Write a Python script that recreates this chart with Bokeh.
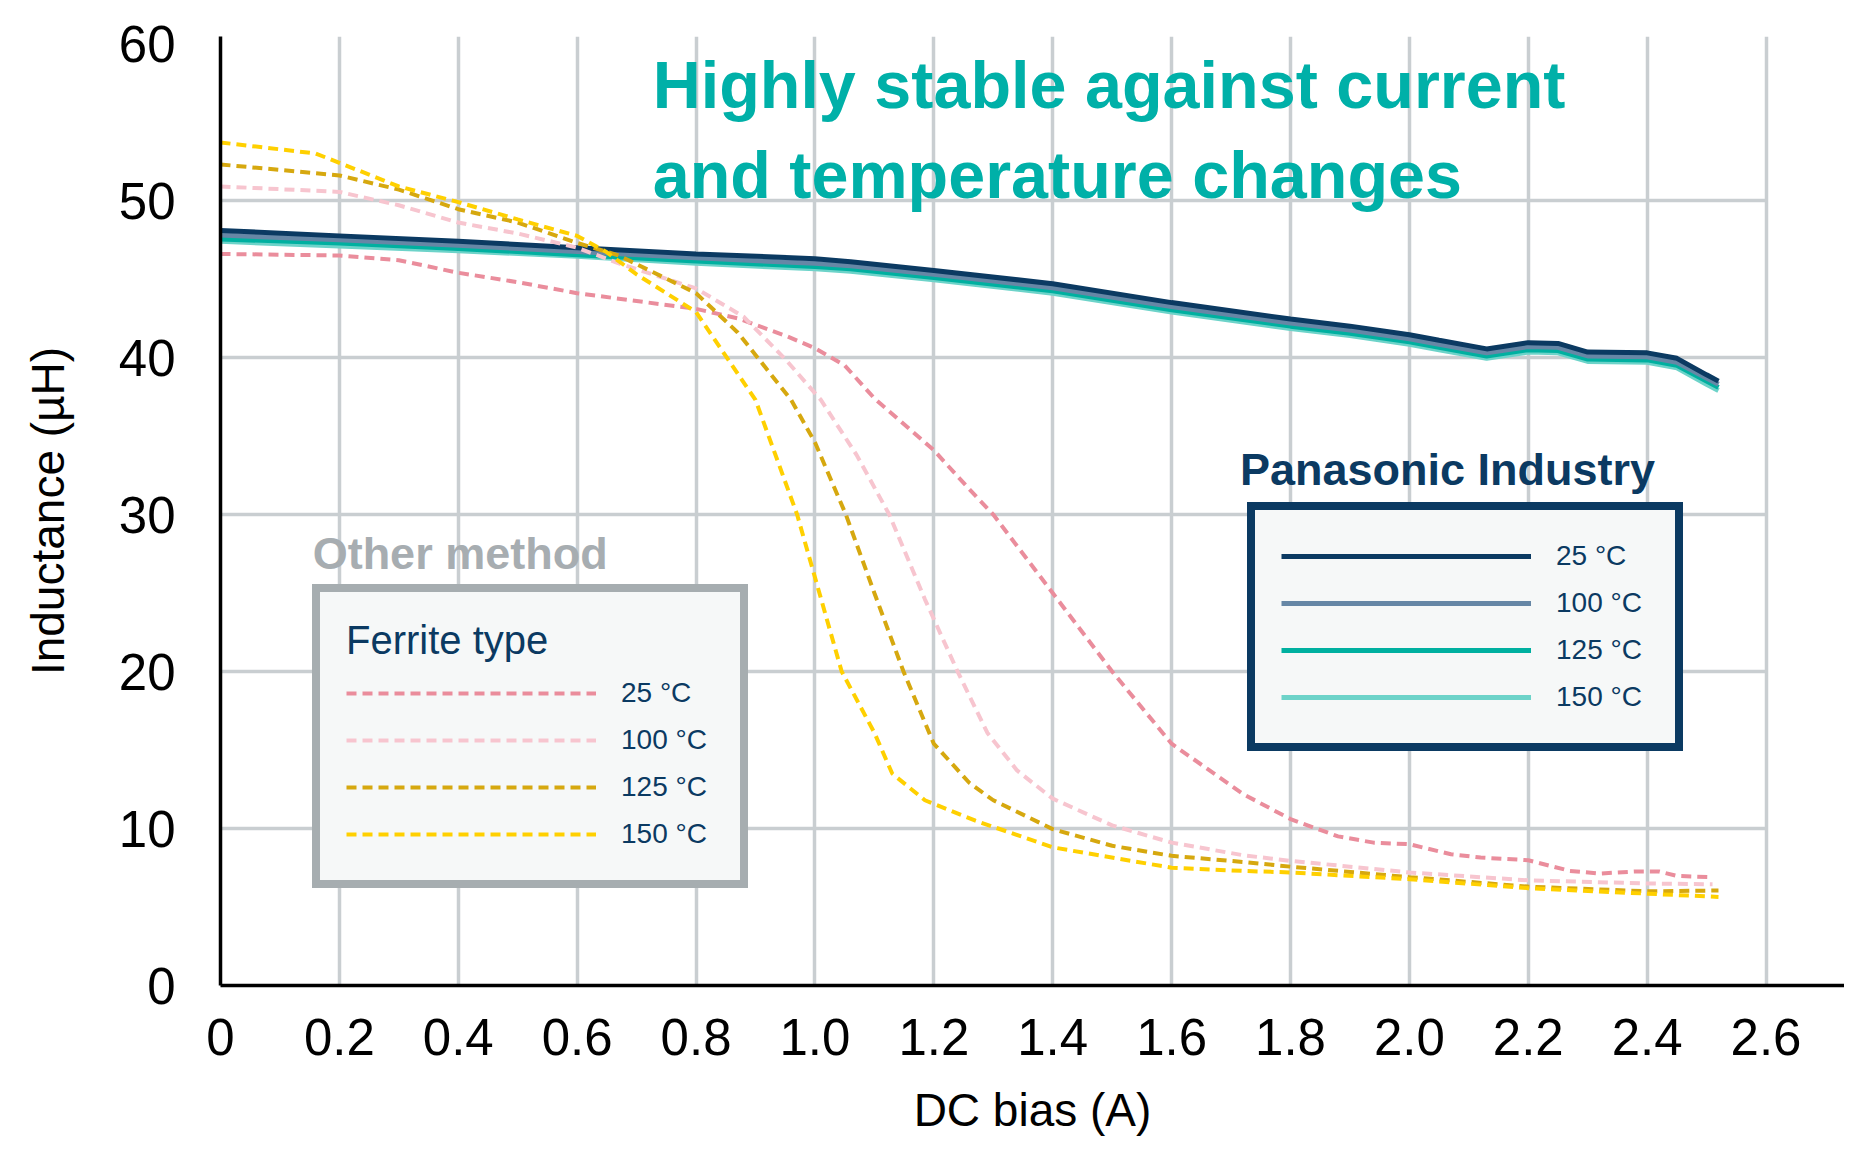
from bokeh.plotting import figure
from bokeh.models import Range1d, Legend, LegendItem, Label, FixedTicker
from bokeh.embed import file_html
from bokeh.resources import INLINE

# ---------------- data ----------------
x_ticks = [0, 0.2, 0.4, 0.6, 0.8, 1.0, 1.2, 1.4, 1.6, 1.8, 2.0, 2.2, 2.4, 2.6]
x_tick_labels = ["0", "0.2", "0.4", "0.6", "0.8", "1.0", "1.2", "1.4", "1.6", "1.8", "2.0", "2.2", "2.4", "2.6"]
y_ticks = [0, 10, 20, 30, 40, 50, 60]
y_tick_labels = ["0", "10", "20", "30", "40", "50", "60"]

temps = ["25 °C", "100 °C", "125 °C", "150 °C"]

# Panasonic Industry (solid)
pana_x = [0, 0.2, 0.4, 0.6, 0.8, 1.0, 1.06, 1.2, 1.4, 1.6, 1.8, 1.9, 2.0, 2.05, 2.13, 2.2, 2.25, 2.3, 2.4, 2.45, 2.5, 2.52]
pana_25 = [48.1, 47.75, 47.4, 47.0, 46.6, 46.3, 46.1, 45.55, 44.7, 43.5, 42.45, 42.0, 41.45, 41.1, 40.55, 40.95, 40.9, 40.35, 40.3, 39.95, 38.9, 38.5]
pana_100 = [47.8, 47.5, 47.15, 46.75, 46.35, 46.0, 45.85, 45.3, 44.45, 43.25, 42.2, 41.75, 41.2, 40.85, 40.3, 40.7, 40.65, 40.1, 40.05, 39.7, 38.7, 38.3]
pana_125 = [47.55, 47.3, 46.95, 46.55, 46.15, 45.8, 45.65, 45.1, 44.25, 43.05, 42.0, 41.55, 41.0, 40.65, 40.1, 40.5, 40.45, 39.9, 39.85, 39.5, 38.5, 38.1]
pana_150 = [47.4, 47.1, 46.8, 46.45, 46.0, 45.65, 45.5, 44.95, 44.1, 42.9, 41.85, 41.4, 40.85, 40.5, 39.95, 40.35, 40.3, 39.75, 39.7, 39.35, 38.3, 37.9]

# Ferrite type (dashed)
fer25_x = [0, 0.2, 0.3, 0.4, 0.5, 0.6, 0.7, 0.8, 0.87, 0.95, 1.0, 1.05, 1.1, 1.2, 1.26, 1.3, 1.4, 1.5, 1.6, 1.72, 1.8, 1.88, 1.94, 2.0, 2.07, 2.12, 2.2, 2.27, 2.32, 2.38, 2.42, 2.45, 2.51]
fer25_y = [46.6, 46.5, 46.2, 45.4, 44.8, 44.1, 43.6, 43.1, 42.5, 41.4, 40.6, 39.5, 37.4, 34.1, 31.6, 30.0, 25.0, 20.0, 15.4, 12.2, 10.6, 9.5, 9.1, 9.0, 8.36, 8.15, 7.98, 7.3, 7.13, 7.26, 7.26, 6.98, 6.9]

fer100_x = [0, 0.2, 0.3, 0.4, 0.5, 0.6, 0.67, 0.8, 0.88, 0.95, 1.01, 1.07, 1.125, 1.185, 1.24, 1.29, 1.34, 1.4, 1.5, 1.6, 1.72, 1.8, 2.0, 2.2, 2.4, 2.51]
fer100_y = [50.9, 50.55, 49.7, 48.6, 47.9, 47.0, 46.0, 44.4, 42.6, 39.9, 37.3, 33.8, 30.0, 24.6, 20.0, 16.1, 13.7, 11.9, 10.2, 9.1, 8.3, 7.94, 7.2, 6.7, 6.5, 6.45]

fer125_x = [0, 0.2, 0.3, 0.4, 0.5, 0.6, 0.67, 0.8, 0.87, 0.96, 1.0, 1.052, 1.1, 1.149, 1.2, 1.26, 1.3, 1.4, 1.5, 1.6, 1.72, 1.8, 2.0, 2.2, 2.4, 2.52]
fer125_y = [52.3, 51.6, 50.7, 49.45, 48.6, 47.3, 46.5, 44.1, 41.6, 37.3, 34.6, 30.0, 25.0, 20.0, 15.4, 12.9, 11.8, 9.96, 8.9, 8.26, 7.87, 7.57, 6.9, 6.3, 6.0, 6.05]

fer150_x = [0, 0.16, 0.2, 0.3, 0.4, 0.5, 0.6, 0.65, 0.7, 0.8, 0.9, 0.97, 1.0, 1.045, 1.1, 1.13, 1.185, 1.27, 1.4, 1.6, 1.72, 1.8, 2.0, 2.2, 2.4, 2.52]
fer150_y = [53.7, 53.0, 52.4, 50.9, 49.9, 48.8, 47.75, 46.7, 45.3, 42.9, 37.3, 30.0, 26.0, 20.0, 16.1, 13.5, 11.8, 10.5, 8.8, 7.5, 7.3, 7.2, 6.77, 6.2, 5.85, 5.64]

# ---------------- style ----------------
FONT = "Liberation Sans"
NAVY = "#0b3a62"
TEAL_TITLE = "#00b0a8"
GRID = "#c9ced1"
pana_colors = ["#0b3a62", "#6687a6", "#00b0a0", "#6dd3c9"]
fer_colors = ["#ea8d9c", "#f7c5cf", "#d6a80f", "#ffd000"]

p = figure(width=1844, height=1138,
           x_range=Range1d(0, 2.732), y_range=Range1d(0, 60.45),
           output_backend="svg", toolbar_location=None,
           min_border_left=220, min_border_right=0,
           min_border_top=36, min_border_bottom=153)
p.outline_line_color = None
p.background_fill_color = "white"

# axes
p.xaxis.ticker = FixedTicker(ticks=x_ticks)
p.yaxis.ticker = FixedTicker(ticks=y_ticks)
p.xaxis.major_label_overrides = {t: l for t, l in zip(x_ticks, x_tick_labels)}
p.yaxis.major_label_overrides = {t: l for t, l in zip(y_ticks, y_tick_labels)}
for ax in (p.xaxis, p.yaxis):
    ax.axis_line_color = "black"
    ax.axis_line_width = 3.5
    ax.major_tick_line_color = None
    ax.minor_tick_line_color = None
    ax.major_tick_out = 0
    ax.major_tick_in = 0
    ax.minor_tick_out = 0
    ax.minor_tick_in = 0
    ax.major_label_text_font = FONT
    ax.major_label_text_font_size = "51px"
    ax.major_label_text_color = "black"
    ax.axis_label_text_font = FONT
    ax.axis_label_text_font_size = "46px"
    ax.axis_label_text_font_style = "normal"
    ax.axis_label_text_color = "black"
p.xaxis.axis_label = "DC bias (A)"
p.yaxis.axis_label = "Inductance (µH)"
p.xaxis.major_label_standoff = 33
p.xaxis.axis_label_standoff = 26
p.yaxis.major_label_standoff = 45
p.yaxis.axis_label_standoff = 42

# grid: vertical lines via Bokeh grid, horizontal ones stop at the last x tick
p.xgrid.ticker = FixedTicker(ticks=x_ticks)
p.xgrid.grid_line_color = GRID
p.xgrid.grid_line_width = 3.5
p.ygrid.visible = False
hy = y_ticks[1:-1]
p.segment(x0=[x_ticks[0]] * len(hy), x1=[x_ticks[-1]] * len(hy), y0=hy, y1=hy,
          line_color=GRID, line_width=3.5)

# Panasonic curves (draw 150 first so 25 is on top)
pana_series = [pana_25, pana_100, pana_125, pana_150]
pana_r = [None] * 4
for i in [3, 2, 1, 0]:
    pana_r[i] = p.line(pana_x, pana_series[i], line_color=pana_colors[i], line_width=5)

# Ferrite curves
fer_series = [(fer25_x, fer25_y), (fer100_x, fer100_y), (fer125_x, fer125_y), (fer150_x, fer150_y)]
fer_r = []
for i, (fx, fy) in enumerate(fer_series):
    fer_r.append(p.line(fx, fy, line_color=fer_colors[i], line_width=4, line_dash="10 6"))

# legends
def style_legend(lg, border_color):
    lg.label_text_font = FONT
    lg.label_text_font_size = "28px"
    lg.label_text_color = NAVY
    lg.glyph_width = 250
    lg.glyph_height = 40
    lg.label_height = 40
    lg.label_width = 93
    lg.label_standoff = 25
    lg.spacing = 7
    lg.padding = 26
    lg.margin = 0
    lg.border_line_width = 8
    lg.border_line_color = border_color
    lg.border_line_alpha = 1
    lg.background_fill_color = "#f6f8f8"
    lg.background_fill_alpha = 1
    lg.click_policy = "none"

fer_legend = Legend(items=[LegendItem(label=temps[i], renderers=[fer_r[i]]) for i in range(4)],
                    location=(92, 97), title="Ferrite type")
style_legend(fer_legend, "#a6adb0")
fer_legend.title_text_font = FONT
fer_legend.title_text_font_size = "40px"
fer_legend.title_text_font_style = "normal"
fer_legend.title_text_color = NAVY
fer_legend.title_standoff = 10

pana_legend = Legend(items=[LegendItem(label=temps[i], renderers=[pana_r[i]]) for i in range(4)],
                     location=(1027, 234))
style_legend(pana_legend, NAVY)

p.add_layout(fer_legend)
p.add_layout(pana_legend)

# texts
p.add_layout(Label(x=0.727, y=57.35, text="Highly stable against current",
                   text_font=FONT, text_font_size="66.5px", text_font_style="bold",
                   text_color=TEAL_TITLE, text_baseline="alphabetic"))
p.add_layout(Label(x=0.727, y=51.6, text="and temperature changes",
                   text_font=FONT, text_font_size="66.5px", text_font_style="bold",
                   text_color=TEAL_TITLE, text_baseline="alphabetic"))
p.add_layout(Label(x=0.155, y=27.5, text="Other method",
                   text_font=FONT, text_font_size="45px", text_font_style="bold",
                   text_color="#a7adb1", text_baseline="alphabetic"))
p.add_layout(Label(x=1.715, y=32.9, text="Panasonic Industry",
                   text_font=FONT, text_font_size="45px", text_font_style="bold",
                   text_color=NAVY, text_baseline="alphabetic"))

open("out.html", "w").write(file_html(p, INLINE))
